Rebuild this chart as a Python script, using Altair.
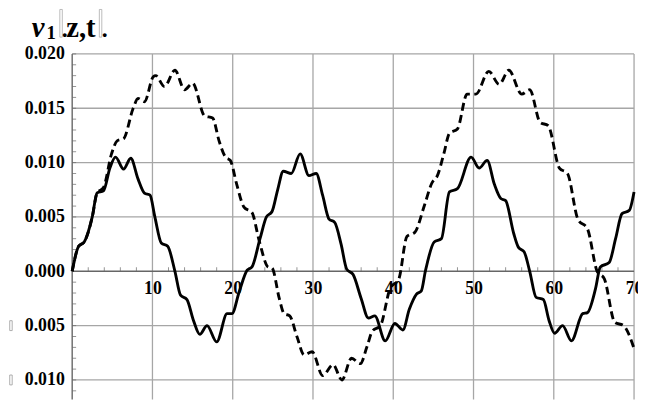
import altair as alt
import pandas as pd

# ---- data ----
solid_x = [0, 0.8, 1.5, 2.5, 3.1, 3.9, 4.7, 5.4, 6.4, 7.3, 8.2, 9.0, 9.7, 10.3, 11.1, 11.9,
           12.8, 13.5, 14.3, 15.1, 15.9, 16.8, 18.0, 19.3, 19.9, 20.8, 21.8, 22.4, 23.4, 24.2,
           24.9, 25.6, 26.3, 27.3, 28.4, 29.5, 30.4, 31.2, 32.0, 32.7, 33.5, 34.2, 35.0, 36.0,
           36.9, 37.7, 39.0, 40.2, 41.2, 42.0, 42.9, 43.5, 44.0, 45.1, 46.0, 47.0, 48.0, 49.7,
           50.7, 51.7, 52.6, 53.4, 54.0, 55.0, 55.6, 56.3, 57.0, 57.8, 58.7, 59.4, 60.1, 61.1,
           62.2, 63.6, 64.2, 65.2, 65.8, 66.9, 67.7, 68.5, 69.4, 70.0]
solid_y = [0.0, 0.0023, 0.0027, 0.0050, 0.0072, 0.0074, 0.0095, 0.0105, 0.0094, 0.0104,
           0.0085, 0.0072, 0.0070, 0.0050, 0.0026, 0.0023, 0.0000, -0.0022, -0.0026, -0.0045,
           -0.0058, -0.0050, -0.0065, -0.0039, -0.0039, -0.0019, 0.0001, 0.0004, 0.0030,
           0.0050, 0.0055, 0.0075, 0.0092, 0.0090, 0.0108, 0.0088, 0.0090, 0.0070, 0.0048,
           0.0045, 0.0025, 0.0002, -0.0003, -0.0025, -0.0043, -0.0041, -0.0064, -0.0048,
           -0.0054, -0.0035, -0.0021, -0.0018, 0.0000, 0.0027, 0.0030, 0.0073, 0.0076, 0.0105,
           0.0095, 0.0102, 0.0080, 0.0067, 0.0065, 0.0035, 0.0022, 0.0018, 0.0000, -0.0024,
           -0.0026, -0.0045, -0.0057, -0.0050, -0.0064, -0.0039, -0.0038, -0.0016, 0.0004,
           0.0008, 0.0030, 0.0053, 0.0056, 0.0073]

dashed_x = [0, 0.8, 1.5, 2.5, 3.1, 3.9, 4.9, 5.6, 6.4, 7.6, 8.2, 9.0, 10.1, 10.4, 11.5, 12.8,
            14.0, 15.0, 16.5, 17.5, 18.3, 19.1, 19.7, 20.5, 21.4, 22.4, 23.3, 24.4, 24.9, 25.8,
            26.4, 27.1, 28.0, 28.9, 29.9, 31.2, 32.5, 33.6, 34.8, 35.9, 36.7, 37.4, 38.4, 39.6,
            40.7, 41.7, 42.7, 43.9, 44.8, 45.5, 46.3, 47.0, 48.0, 49.2, 50.3, 51.9, 53.2, 54.4,
            56.0, 57.0, 58.3, 59.3, 60.7, 61.7, 63.0, 64.2, 65.4, 66.3, 67.6, 68.7, 70.0]
dashed_y = [0.0, 0.0023, 0.0027, 0.0050, 0.0072, 0.0077, 0.0108, 0.0120, 0.0122, 0.0150,
            0.0159, 0.0156, 0.0179, 0.0180, 0.0170, 0.0185, 0.0167, 0.0173, 0.0143, 0.0141,
            0.0120, 0.0105, 0.0102, 0.0080, 0.0059, 0.0054, 0.0028, 0.0004, 0.0003, -0.0025,
            -0.0039, -0.0041, -0.0060, -0.0077, -0.0074, -0.0096, -0.0086, -0.0100, -0.0080,
            -0.0085, -0.0070, -0.0055, -0.0050, -0.0016, -0.0007, 0.0032, 0.0036, 0.0061,
            0.0081, 0.0088, 0.0108, 0.0127, 0.0131, 0.0163, 0.0163, 0.0184, 0.0172, 0.0185,
            0.0163, 0.0167, 0.0137, 0.0134, 0.0095, 0.0090, 0.0048, 0.0039, 0.0000, -0.0007,
            -0.0047, -0.0050, -0.0071]

x_labels = [10, 20, 30, 40, 50, 60, 70]
y_labels = [-0.010, -0.005, 0.000, 0.005, 0.010, 0.015, 0.020]
x_grid = [10, 20, 30, 40, 50, 60, 70]
y_grid = [-0.010, -0.005, 0.005, 0.010, 0.015, 0.020]
x_minor = [2, 4, 6, 8, 12, 14, 16, 18, 22, 24, 26, 28, 32, 34, 36, 38, 42, 44, 46, 48,
           52, 54, 56, 58, 62, 64, 66, 68]
y_minor = [-0.011, -0.010, -0.009, -0.008, -0.007, -0.006, -0.005, -0.004, -0.003, -0.002,
           -0.001, 0.001, 0.002, 0.003, 0.004, 0.005, 0.006, 0.007, 0.008, 0.009, 0.010,
           0.011, 0.012, 0.013, 0.014, 0.015, 0.016, 0.017, 0.018, 0.019, 0.020]
neg_labels = [-0.005, -0.010]

XMIN, XMAX = 0, 70
YMIN, YMAX = -0.0118, 0.020
W, H = 569, 350

FONT = "Liberation Serif"
xs = alt.Scale(domain=[XMIN, XMAX], nice=False, zero=False)
ys = alt.Scale(domain=[YMIN, YMAX], nice=False, zero=False)

x_offset = -H * (0 - YMIN) / (YMAX - YMIN)

x_axis = alt.Axis(values=x_labels, offset=x_offset, domain=False, ticks=False, tickSize=0,
                  grid=False, labelFont=FONT, labelFontWeight="bold", labelFontSize=18,
                  labelColor="black", labelPadding=8, format="d", title=None,
                  labelFlush=False, labelOverlap=False)
y_axis = alt.Axis(values=y_labels, domain=False, ticks=False, tickSize=0, grid=False,
                  labelFont=FONT, labelFontWeight="bold", labelFontSize=18,
                  labelColor="black", labelPadding=8,
                  labelExpr="format(abs(datum.value), '.3f')", title=None,
                  labelFlush=False, labelOverlap=False)

curves = pd.concat([
    pd.DataFrame({"x": solid_x, "y": solid_y, "s": "solid"}),
    pd.DataFrame({"x": dashed_x, "y": dashed_y, "s": "dashed"}),
])

GRID = "#a6a6a6"
AX = "#666666"

grid_v = alt.Chart(pd.DataFrame({"x": x_grid})).mark_rule(color=GRID, strokeWidth=1.3).encode(
    x=alt.X("x:Q", scale=xs, axis=x_axis))
grid_h = alt.Chart(pd.DataFrame({"y": y_grid})).mark_rule(color=GRID, strokeWidth=1.3).encode(
    y=alt.Y("y:Q", scale=ys, axis=y_axis))
axis_x = alt.Chart(pd.DataFrame({"y": [0.0]})).mark_rule(color=AX, strokeWidth=1.4).encode(
    y=alt.Y("y:Q", scale=ys, axis=y_axis))
axis_y = alt.Chart(pd.DataFrame({"x": [0.0]})).mark_rule(color=AX, strokeWidth=1.4).encode(
    x=alt.X("x:Q", scale=xs, axis=x_axis))
ticks_x = alt.Chart(pd.DataFrame({"x": x_minor, "y": 0.0})).mark_tick(
    orient="vertical", size=4, thickness=1, yOffset=-2, color=AX).encode(
    x=alt.X("x:Q", scale=xs, axis=x_axis), y=alt.Y("y:Q", scale=ys, axis=y_axis))
ticks_y = alt.Chart(pd.DataFrame({"y": y_minor, "x": 0.0})).mark_tick(
    orient="horizontal", size=4, thickness=1, xOffset=2, color=AX).encode(
    x=alt.X("x:Q", scale=xs, axis=x_axis), y=alt.Y("y:Q", scale=ys, axis=y_axis))

line_solid = alt.Chart(curves).transform_filter("datum.s == 'solid'").mark_line(
    color="black", strokeWidth=2.9, interpolate="monotone").encode(
    x=alt.X("x:Q", scale=xs, axis=x_axis), y=alt.Y("y:Q", scale=ys, axis=y_axis))
line_dashed = alt.Chart(curves).transform_filter("datum.s == 'dashed'").mark_line(
    color="black", strokeWidth=2.9, strokeDash=[8, 4.5], interpolate="monotone").encode(
    x=alt.X("x:Q", scale=xs, axis=x_axis), y=alt.Y("y:Q", scale=ys, axis=y_axis))

# missing-glyph boxes in front of the negative labels
neg_box = alt.Chart(pd.DataFrame({"y": neg_labels})).mark_tick(
    orient="vertical", size=10, thickness=2.5, fill="white", stroke="#999999",
    strokeWidth=0.8, opacity=1).encode(
    x=alt.value(-62), y=alt.Y("y:Q", scale=ys, axis=y_axis))

# title  v1[z,t]
tbase = dict(font=FONT, fontWeight="bold", color="black", align="left", baseline="alphabetic")
t_v = alt.Chart(pd.DataFrame({"t": ["v"]})).mark_text(fontSize=29, fontStyle="italic", **tbase).encode(
    text="t:N", x=alt.value(-41), y=alt.value(-17))
t_1 = alt.Chart(pd.DataFrame({"t": ["1"]})).mark_text(fontSize=19, **tbase).encode(
    text="t:N", x=alt.value(-26), y=alt.value(-15))
t_zt = alt.Chart(pd.DataFrame({"t": ["z,t"]})).mark_text(fontSize=29, **tbase).encode(
    text="t:N", x=alt.value(-6), y=alt.value(-17))
t_dots = alt.Chart(pd.DataFrame({"t": [".", "."], "px": [-10.5, 30]})).mark_text(
    fontSize=24, **tbase).encode(text="t:N", x=alt.X("px:Q", scale=None), y=alt.value(-17))
t_boxes = alt.Chart(pd.DataFrame({"a": [-12.5, 27.5], "b": [-10, 30]})).mark_rect(
    fill="white", stroke="#aaaaaa", strokeWidth=0.8).encode(
    x=alt.X("a:Q", scale=None), x2="b:Q", y=alt.value(-45), y2=alt.value(-17))

chart = alt.layer(
    grid_v, grid_h, axis_x, axis_y, ticks_x, ticks_y, line_solid, line_dashed,
    neg_box, t_boxes, t_v, t_1, t_zt, t_dots
).properties(
    width=W, height=H,
    autosize=alt.AutoSizeParams(type="none"),
    padding={"left": 65, "top": 44, "right": 4, "bottom": 0},
    background="white",
).configure_view(stroke=None)

chart.save("out.html", embed_options={"renderer": "svg", "actions": False})
